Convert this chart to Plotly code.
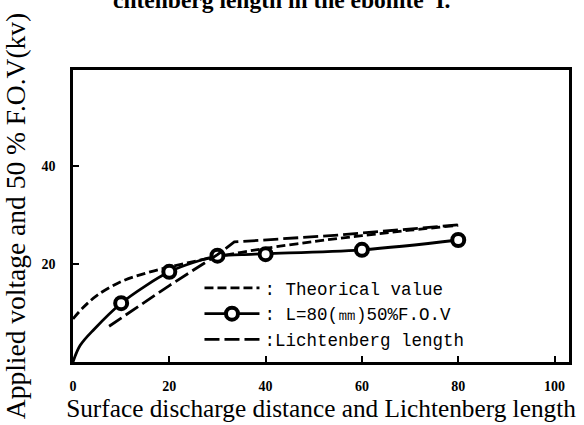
import plotly.graph_objects as go

# Theoretical value curve
theo_x = [0, 2, 5, 10, 15, 20, 25, 30, 35, 40, 50, 60, 70, 80]
theo_y = [8.8, 11, 13.6, 16.4, 18.1, 19.4, 20.5, 21.5, 22.4, 23.2, 24.6, 25.8, 26.9, 27.9]

# Measured L=80 mm 50% F.O.V (smooth line + measured points)
meas_line_x = [0, 1.5, 4.4, 10, 15, 20, 25, 30, 35, 40, 60, 80]
meas_line_y = [0, 3.4, 6.7, 12, 15.5, 18.4, 20.3, 21.6, 21.9, 22.1, 22.9, 24.9]
meas_x = [10, 20, 30, 40, 60, 80]
meas_y = [12, 18.4, 21.7, 22, 22.9, 24.9]

# Lichtenberg length
lich_x = [7.5, 20, 30, 33.5, 55, 80]
lich_y = [7.3, 15.6, 21.9, 24.5, 25.9, 28.0]

x_ticks = [0, 20, 40, 60, 80, 100]
y_ticks = [20, 40]

marker_style = dict(color="white", size=12, line=dict(color="black", width=4))

fig = go.Figure()
fig.add_trace(go.Scatter(x=theo_x, y=theo_y, mode="lines", line_shape="spline",
                         line=dict(color="black", width=2.8, dash="9px,4px"),
                         name=": Theorical value"))
fig.add_trace(go.Scatter(x=meas_line_x, y=meas_line_y, mode="lines", line_shape="spline",
                         line=dict(color="black", width=2.8), showlegend=False))
fig.add_trace(go.Scatter(x=meas_x, y=meas_y, mode="markers",
                         marker=marker_style, showlegend=False))
fig.add_trace(go.Scatter(x=[None], y=[None], mode="lines+markers",
                         line=dict(color="black", width=2.8),
                         marker=marker_style,
                         name=": L=80(㎜)50%F.O.V"))
fig.add_trace(go.Scatter(x=lich_x, y=lich_y, mode="lines",
                         line=dict(color="black", width=2.8, dash="15px,5px"),
                         name=":Lichtenberg length"))

axis_common = dict(showline=True, linecolor="black", linewidth=2.5, mirror=True,
                   ticks="inside", ticklen=6, tickwidth=2, tickcolor="black",
                   showgrid=False, zeroline=False,
                   tickfont=dict(family="Liberation Serif", size=14, color="black",
                                 weight="bold"))

fig.update_layout(
    width=584, height=425,
    margin=dict(l=72, r=14, t=70, b=63),
    paper_bgcolor="white", plot_bgcolor="white",
    xaxis=dict(range=[0, 103], tickvals=x_ticks, ticklabelstandoff=9,
               title=dict(text="Surface discharge distance and Lichtenberg length",
                          font=dict(family="Liberation Serif", size=25.3, color="black"),
                          standoff=0),
               **axis_common),
    yaxis=dict(range=[0, 59.6], tickvals=y_ticks, ticklabelstandoff=12,
               title=dict(text="Applied voltage and 50 % F.O.V(kv)",
                          font=dict(family="Liberation Serif", size=27.5, color="black"),
                          standoff=10),
               **axis_common),
    legend=dict(x=0.255, y=0.315, xanchor="left", yanchor="top",
                bgcolor="rgba(0,0,0,0)", itemwidth=55,
                font=dict(family="Liberation Mono", size=17.5, color="black"),
                tracegroupgap=0),
    annotations=[dict(text="<b>chtenberg length in the ebonite  I.</b>",
                      xref="paper", yref="paper", x=0.42, y=1.19,
                      xanchor="center", yanchor="bottom", showarrow=False,
                      font=dict(family="Liberation Serif", size=23.5, color="black"))],
)

fig.write_html("out.html", config={"displayModeBar": False},
               post_script="document.body.style.margin='0px';")
